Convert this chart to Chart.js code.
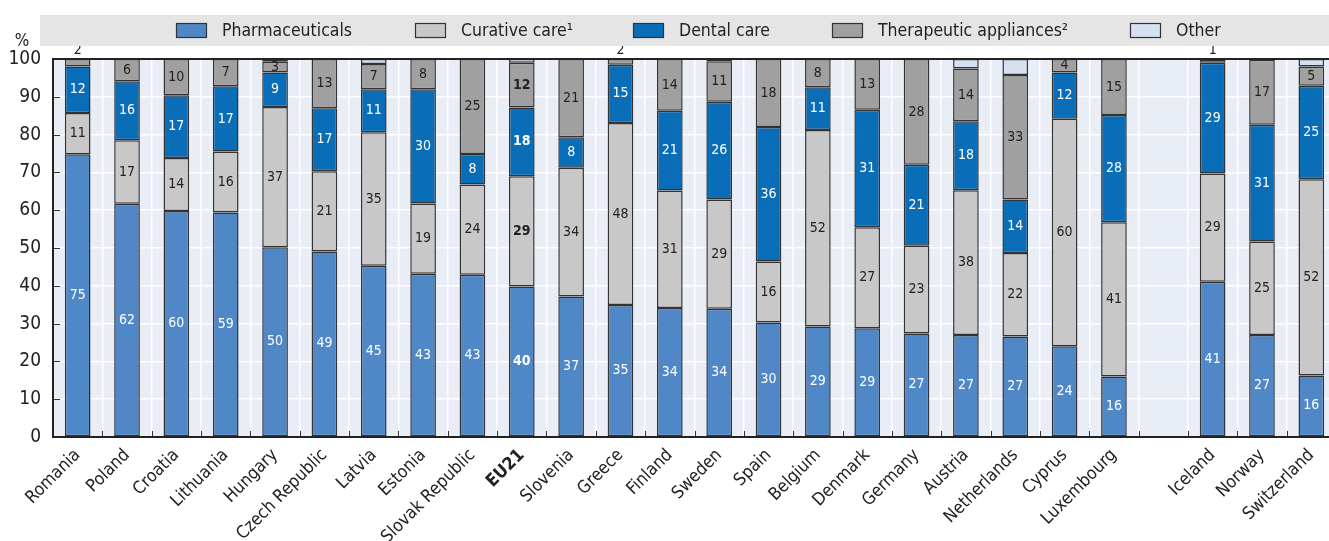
<!DOCTYPE html>
<html>
<head>
<meta charset="utf-8">
<script src="https://cdn.jsdelivr.net/npm/chart.js@4.4.1/dist/chart.umd.min.js"></script>
<style>
  html, body { margin: 0; padding: 0; background: #ffffff; overflow: hidden; }
  #wrap { width: 1336px; height: 541px; position: relative; }
</style>
</head>
<body>
<div id="wrap"><canvas id="c" width="1336" height="541"></canvas></div>
<script>
const categories = ["Romania","Poland","Croatia","Lithuania","Hungary","Czech Republic","Latvia","Estonia","Slovak Republic","EU21","Slovenia","Greece","Finland","Sweden","Spain","Belgium","Denmark","Germany","Austria","Netherlands","Cyprus","Luxembourg","","Iceland","Norway","Switzerland"];
const seriesNames = ["Pharmaceuticals","Curative care\u00B9","Dental care","Therapeutic appliances\u00B2","Other"];
const pharmaceuticals = [74.8,61.7,59.8,59.4,50.2,49.1,45.3,43.2,42.9,39.8,37.2,34.9,34.1,33.9,30.3,29.2,28.8,27.4,27.0,26.6,24.0,16.0,null,41.1,27.0,16.3];
const curativeCare    = [10.9,16.8,14.0,16.1,37.1,21.2,35.3,18.6,23.9,29.2,34.0,48.2,31.1,28.9,16.1,52.0,26.7,23.2,38.3,22.1,60.2,40.8,null,28.6,24.7,51.9];
const dentalCare      = [12.3,15.6,16.6,17.3,9.1,16.7,11.4,30.2,8.1,18.2,8.1,15.4,21.1,25.9,35.6,11.3,31.1,21.4,18.2,14.1,12.2,28.4,null,29.3,30.9,24.7];
const therapeutic     = [2.0,5.9,9.6,7.2,2.9,13.0,6.7,8.0,25.1,11.8,20.7,1.5,13.7,10.7,18.0,7.5,13.4,28.0,14.0,33.0,3.6,14.8,null,0.9,17.2,5.1];
const other           = [0,0,0,0,0.7,0,1.3,0,0,1.0,0,0,0,0.6,0,0,0,0,2.5,4.2,0,0,null,0,0,2.0];
const yTicks = [0,10,20,30,40,50,60,70,80,90,100];

const colors = ["#4f87c7","#c8c8c8","#0a6db8","#a0a0a0","#d5e1f1"];
const labelColors = ["#ffffff","#222222","#ffffff","#222222",null];
const FONT = "'DejaVu Sans Condensed','Liberation Sans Narrow','Arial Narrow',sans-serif";

const datasets = [pharmaceuticals, curativeCare, dentalCare, therapeutic, other].map((d, i) => ({
  label: seriesNames[i],
  data: d,
  backgroundColor: colors[i],
  borderColor: "#333333",
  borderWidth: 1.5,
  borderSkipped: false,
  barPercentage: 0.52,
  categoryPercentage: 1.0
}));

const bgPlugin = {
  id: "bg",
  beforeDraw(chart) {
    const { ctx, chartArea: a } = chart;
    ctx.save();
    ctx.fillStyle = "#e8edf6";
    ctx.fillRect(a.left, a.top, a.right - a.left, a.bottom - a.top);
    ctx.restore();
  }
};

const framePlugin = {
  id: "frame",
  afterDatasetsDraw(chart) {
    const { ctx, chartArea: a, scales } = chart;
    ctx.save();
    ctx.strokeStyle = "#333";
    ctx.lineWidth = 1;
    const xs = scales.x, ys = scales.y;
    const step = xs.getPixelForValue(1) - xs.getPixelForValue(0);
    for (let i = 0; i <= categories.length; i++) {
      const px = Math.round(xs.getPixelForValue(i) - step / 2) + 0.5;
      ctx.beginPath();
      ctx.moveTo(px, a.bottom);
      ctx.lineTo(px, a.bottom - 6);
      ctx.stroke();
    }
    yTicks.forEach(v => {
      const py = Math.round(ys.getPixelForValue(v)) + 0.5;
      ctx.beginPath();
      ctx.moveTo(a.left, py);
      ctx.lineTo(a.left + 7, py);
      ctx.stroke();
    });
    ctx.strokeStyle = "#222";
    ctx.lineWidth = 2;
    ctx.beginPath();
    ctx.moveTo(a.left, a.top); ctx.lineTo(a.right, a.top);
    ctx.moveTo(a.left, a.bottom); ctx.lineTo(a.right, a.bottom);
    ctx.moveTo(a.left, a.top - 1); ctx.lineTo(a.left, a.bottom + 1);
    ctx.stroke();
    ctx.fillStyle = "#222";
    ctx.font = "17px " + FONT;
    ctx.textAlign = "center";
    ctx.textBaseline = "middle";
    ctx.fillText("%", 22, 42);
    ctx.restore();
  }
};

const valuePlugin = {
  id: "values",
  afterDatasetsDraw(chart) {
    const { ctx, chartArea: a } = chart;
    ctx.save();
    ctx.textAlign = "center";
    ctx.textBaseline = "middle";
    chart.data.datasets.forEach((ds, di) => {
      if (!labelColors[di]) return;
      const meta = chart.getDatasetMeta(di);
      meta.data.forEach((el, idx) => {
        const v = ds.data[idx];
        if (v === null || v === undefined || v <= 0) return;
        const bold = categories[idx] === "EU21";
        ctx.font = (bold ? "bold " : "") + "14px " + FONT;
        const txt = String(Math.round(v));
        if (v < 2.5) {
          ctx.fillStyle = "#222";
          ctx.fillText(txt, el.x, a.top - 9);
        } else {
          ctx.fillStyle = labelColors[di];
          ctx.fillText(txt, el.x, (el.y + el.base) / 2);
        }
      });
    });
    ctx.restore();
  }
};

const legendPlugin = {
  id: "customLegend",
  afterDraw(chart) {
    const { ctx, width } = chart;
    const boxX = [176, 415, 633, 832, 1130];
    ctx.save();
    ctx.fillStyle = "#e5e5e5";
    ctx.fillRect(40, 15, width - 40, 31);
    ctx.font = "17.5px " + FONT;
    ctx.textBaseline = "middle";
    ctx.textAlign = "left";
    seriesNames.forEach((n, i) => {
      ctx.fillStyle = colors[i];
      ctx.fillRect(boxX[i], 23, 30, 14);
      ctx.strokeStyle = "#333";
      ctx.lineWidth = 1.2;
      ctx.strokeRect(boxX[i] + 0.5, 23.5, 30, 14);
      ctx.fillStyle = "#222";
      ctx.fillText(n, boxX[i] + 46, 31);
    });
    ctx.restore();
  }
};

new Chart(document.getElementById("c"), {
  type: "bar",
  data: { labels: categories, datasets },
  options: {
    responsive: false,
    animation: false,
    layout: { padding: { top: 59, left: 0, right: 0, bottom: 0 } },
    plugins: { legend: { display: false }, tooltip: { enabled: false } },
    scales: {
      x: {
        stacked: true,
        offset: true,
        grid: { display: true, offset: true, color: "#ffffff", lineWidth: 1.5, drawTicks: false },
        border: { display: false },
        afterFit(s) { s.height = 104; },
        ticks: {
          autoSkip: false,
          maxRotation: 45,
          minRotation: 45,
          padding: 8,
          color: "#222",
          font: (c) => ({ family: FONT, size: 17.5, weight: categories[c.index] === "EU21" ? "bold" : "normal" })
        }
      },
      y: {
        stacked: true,
        min: 0,
        max: 100,
        afterFit(s) { s.width = 53; },
        afterBuildTicks(s) { s.ticks = yTicks.map(v => ({ value: v })); },
        grid: { color: "#ffffff", lineWidth: 1.5, drawTicks: false },
        border: { display: false },
        ticks: { color: "#222", padding: 12, font: { family: FONT, size: 19 } }
      }
    }
  },
  plugins: [bgPlugin, framePlugin, valuePlugin, legendPlugin]
});
</script>
</body>
</html>
